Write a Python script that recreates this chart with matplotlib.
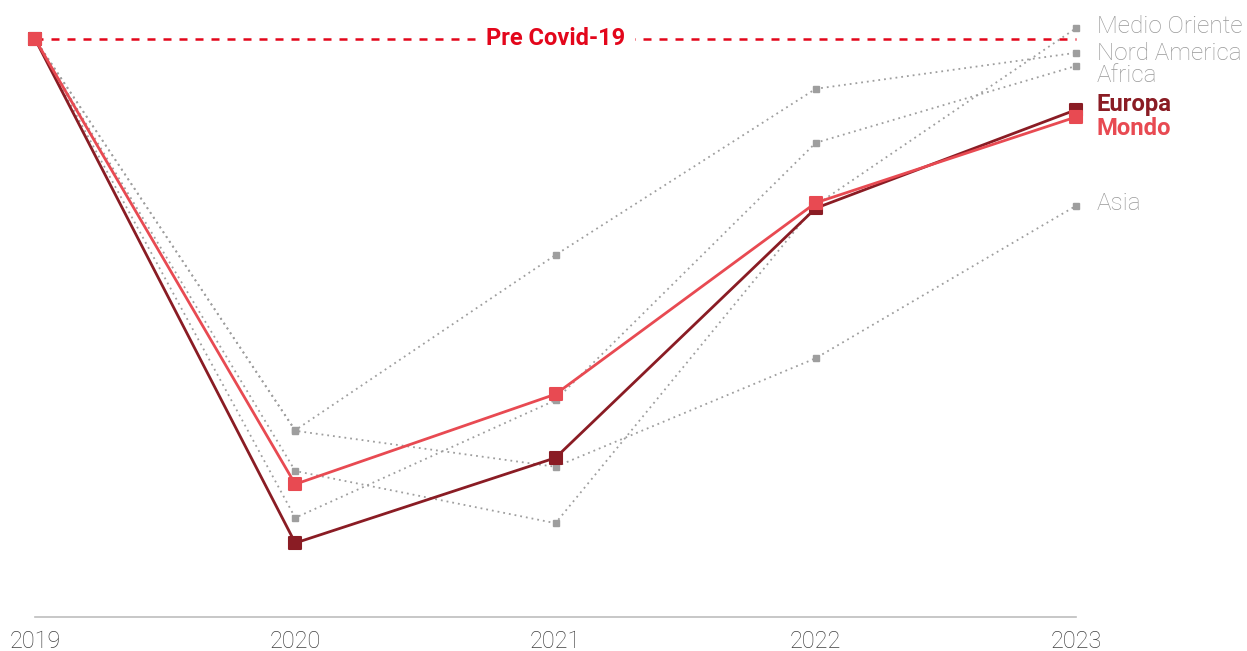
import numpy as np
import matplotlib
matplotlib.use("Agg")
import matplotlib.pyplot as plt
from matplotlib.markers import MarkerStyle

plt.rcParams['font.family'] = ['Roboto', 'DejaVu Sans']

# Indice (2019 = 100)
anni = [2019, 2020, 2021, 2022, 2023]
medio_oriente = [100, 28.0, 19.3, 72.3, 101.8]
nord_america = [100, 34.8, 64.0, 91.7, 97.7]
africa = [100, 20.2, 39.8, 82.7, 95.5]
asia = [100, 34.7, 28.7, 46.8, 72.2]
europa = [100, 16.0, 30.2, 71.8, 88.2]
mondo = [100, 25.8, 40.8, 72.7, 87.0]
pre_covid = 100

grigio = '#9e9e9e'
rosso_scuro = '#8a1c24'
rosso = '#e84a52'
rosso_pre = '#e3061b'

fig = plt.figure(figsize=(12.47, 6.51), dpi=100)
ax = fig.add_axes([35/1247, 34/651, (1076-35)/1247, (617-10)/651])

sq = MarkerStyle('s', joinstyle='round')

# regioni in grigio, tratteggio a punti
grigie = [('Medio Oriente', medio_oriente, 1.5),
          ('Nord America', nord_america, -0.5),
          ('Africa', africa, -6.5),
          ('Asia', asia, 2)]
for nome, vals, off in grigie:
    ax.plot(anni[1:], vals[1:], ls='none', marker='s', ms=4.5, color=grigio, zorder=2)
    ax.plot(anni, vals, ls=(0, (1, 2.2)), lw=1.3, color=grigio, zorder=1)
    ax.annotate(nome, (anni[-1], vals[-1]), xytext=(15, off), textcoords='offset points',
                va='center', ha='left', fontsize=17.5, fontweight='light', color='#989898')

# linea pre covid
ax.plot([anni[0], anni[-1]], [pre_covid, pre_covid], color=rosso_pre, lw=1.8,
        dashes=(3.2, 3.2), zorder=3)
ax.text(2021, pre_covid, 'Pre Covid-19', ha='center', va='center', fontsize=17,
        fontweight='bold', color=rosso_pre, zorder=4,
        bbox=dict(facecolor='white', edgecolor='none', pad=7))

ax.plot(anni, europa, color=rosso_scuro, lw=2.0, marker=sq, ms=9, mew=1.5,
        mec=rosso_scuro, zorder=5)
ax.plot(anni, mondo, color=rosso, lw=2.0, marker=sq, ms=9, mew=1.5,
        mec=rosso, zorder=6)
ax.annotate('Europa', (anni[-1], europa[-1]), xytext=(15, 4), textcoords='offset points',
            va='center', ha='left', fontsize=17.2, fontweight='bold', color=rosso_scuro)
ax.annotate('Mondo', (anni[-1], mondo[-1]), xytext=(15, -8.5), textcoords='offset points',
            va='center', ha='left', fontsize=17.2, fontweight='bold', color=rosso)

ax.set_xlim(2019, 2023)
ax.set_ylim(100 - (617-39)/6, 100 + (39-10)/6)
ax.set_xticks(anni)
ax.set_xticklabels([str(a) for a in anni], fontsize=16.8, fontweight='light', color='#404040')
ax.tick_params(axis='x', length=0, pad=9)
ax.set_yticks([])
for s in ['top', 'right', 'left']:
    ax.spines[s].set_visible(False)
ax.spines['bottom'].set_color('#bdbdbd')
ax.spines['bottom'].set_linewidth(1.2)
for l in ax.lines:
    l.set_clip_on(False)

fig.savefig('out.png', dpi=100)
